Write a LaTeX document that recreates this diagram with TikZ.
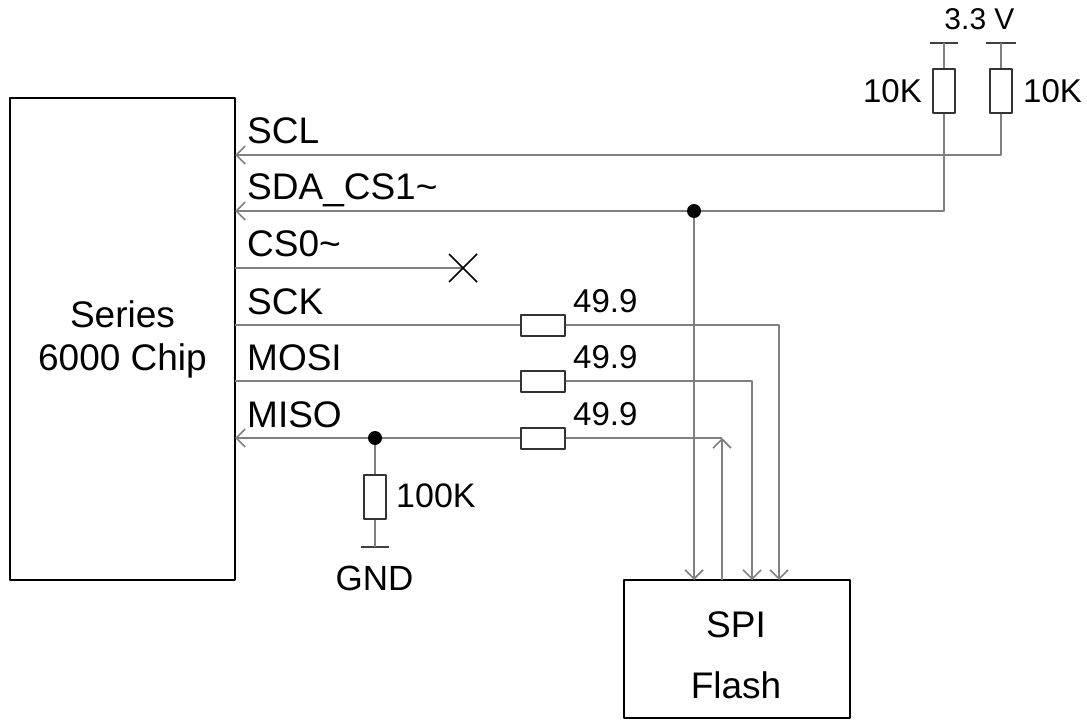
\documentclass[tikz,border=0pt]{standalone}
\usepackage{fontspec}
\setmainfont{Liberation Sans}
\usetikzlibrary{arrows.meta}
\tikzset{
  sig/.style={draw=black!50,line width=1.8pt},
  tip/.style={-{Straight Barb[length=9pt,width=18pt,line width=1.6pt]}},
  res/.style={draw=black!80,line width=2pt,fill=white,rectangle,inner sep=0pt},
  bar/.style={draw=black!75,line width=2pt},
  lbl/.style={font=\fontsize{37}{40}\selectfont,inner sep=0pt},
  val/.style={font=\fontsize{33}{40}\selectfont,inner sep=0pt},
}
\begin{document}
\begin{tikzpicture}[x=1pt,y=-1pt,line join=round]
  \useasboundingbox (0,0) rectangle (1087,722);
  % blocks
  \node[draw,line width=2.4pt,minimum width=225pt,minimum height=482pt,align=center,
        font=\fontsize{37}{43}\selectfont] (chip) at (122.5,339) {Series\\6000 Chip};
  \node[draw,line width=2.4pt,minimum width=226pt,minimum height=138pt] (flash) at (737,649) {};
  \node[font=\fontsize{37}{61}\selectfont,align=center,inner sep=0pt] (flashtxt) at (736,655) {SPI\\Flash};
  % pins on the chip
  \foreach \n/\y/\t in {SCL/155/SCL,SDA/211/SDA\_CS1\textasciitilde,CS0/268/CS0\textasciitilde,
    SCK/325/SCK,MOSI/381/MOSI,MISO/438/MISO}{
      \path (235,\y) coordinate (p\n);
      \node[lbl,anchor=base west] (l\n) at (247,\y-11) {\t};
  }
  % pins on the flash
  \foreach \n/\x in {SDA/694,MISO/722,MOSI/752,SCK/779}{
      \path (\x,580) coordinate (f\n);
  }
  \path (463,268) coordinate (nc) (694,211) coordinate (jSDA) (375,438) coordinate (jMISO)
        (722,438) coordinate (cMISO);
  % resistors
  \foreach \n/\y in {SCK/325,MOSI/381,MISO/438}{
      \node[res,minimum width=44pt,minimum height=21pt] (r\n) at (543,\y) {};
      \node[val,anchor=base west] (v\n) at (573,\y-13) {49.9};
  }
  \node[res,minimum width=22pt,minimum height=44pt] (rA) at (944,91.5) {};
  \node[res,minimum width=22pt,minimum height=44pt] (rB) at (1001,91.5) {};
  \node[res,minimum width=22pt,minimum height=44pt] (rG) at (375,497) {};
  \node[val,anchor=base east] (vA) at (922,103) {10K};
  \node[val,anchor=base west] (vB) at (1023,103) {10K};
  \node[val,font=\fontsize{34}{40}\selectfont,anchor=base west] (vG) at (396,507) {100K};
  \node[val,font=\fontsize{35}{40}\selectfont,anchor=base] (gnd) at (374.5,590) {GND};
  \node[val,font=\fontsize{30}{34}\selectfont,anchor=base] (vcc) at (979.5,30) {3.3 V};
  % supply and ground bars
  \path (944,43) coordinate (tA) (1001,43) coordinate (tB) (375,547) coordinate (tG);
  \draw[bar] ([xshift=-14pt]tA) -- ([xshift=14pt]tA);
  \draw[bar] ([xshift=-15pt]tB) -- ([xshift=15pt]tB);
  \draw[bar] ([xshift=-14pt]tG) -- ([xshift=14pt]tG);
  \draw[sig] (tA) -- (rA.north) (tB) -- (rB.north) (jMISO) -- (rG.north) (rG.south) -- (tG);
  % signals
  \draw[sig,tip] (rB.south) |- (pSCL);
  \draw[sig,tip] (rA.south) |- (pSDA);
  \draw[sig,tip] (jSDA) -- (fSDA);
  \draw[sig] (pCS0) -- (nc);
  \draw[black,line width=1.6pt] ([shift={(-14pt,-14pt)}]nc) -- ([shift={(14pt,14pt)}]nc)
    ([shift={(-14pt,14pt)}]nc) -- ([shift={(14pt,-14pt)}]nc);
  \draw[sig] (pSCK) -- (rSCK.west);
  \draw[sig,tip] (rSCK.east) -| (fSCK);
  \draw[sig] (pMOSI) -- (rMOSI.west);
  \draw[sig,tip] (rMOSI.east) -| (fMOSI);
  \draw[sig,tip] (fMISO) -- (cMISO);
  \draw[sig] (cMISO) -- (rMISO.east);
  \draw[sig,tip] (rMISO.west) -- (pMISO);
  \foreach \j in {jSDA,jMISO}{
      \fill (\j) circle (7pt);
  }
\end{tikzpicture}
\end{document}
